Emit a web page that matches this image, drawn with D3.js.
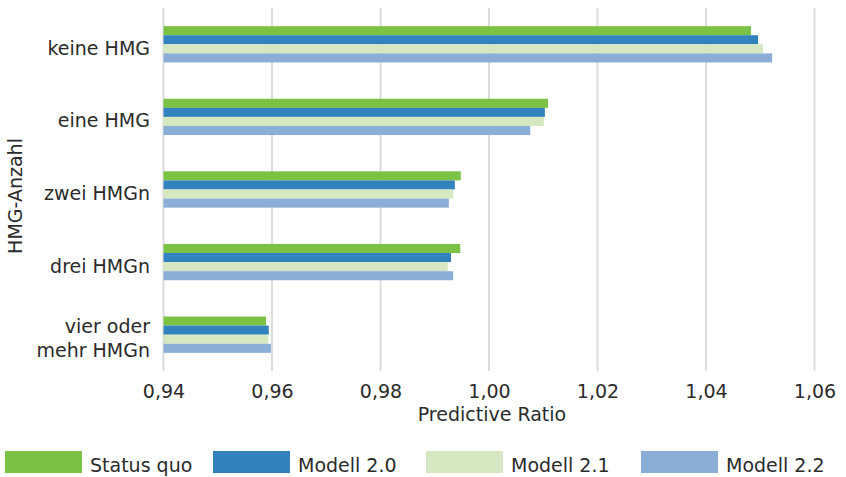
<!DOCTYPE html>
<html>
<head>
<meta charset="utf-8">
<script src="https://cdn.jsdelivr.net/npm/d3@7"></script>
<style>
  html, body { margin: 0; padding: 0; background: #fff; }
  svg { display: block; }
  text { font-family: "DejaVu Sans", sans-serif; fill: #2b2b2b; }
</style>
</head>
<body>
<svg id="chart" width="846" height="477"></svg>
<script>
// Categories (number of HMG groups) and series
const categories = ["keine HMG", "eine HMG", "zwei HMGn", "drei HMGn", "vier oder mehr HMGn"];
const categoryLines = [["keine HMG"], ["eine HMG"], ["zwei HMGn"], ["drei HMGn"], ["vier oder", "mehr HMGn"]];
const seriesNames = ["Status quo", "Modell 2.0", "Modell 2.1", "Modell 2.2"];

// Predictive ratio per series, in category order
const statusQuo = [1.0483, 1.0109, 0.9948, 0.9947, 0.9589];
const modell20  = [1.0496, 1.0103, 0.9937, 0.9930, 0.9594];
const modell21  = [1.0505, 1.0101, 0.9934, 0.9924, 0.9593];
const modell22  = [1.0522, 1.0076, 0.9926, 0.9934, 0.9598];
const seriesValues = [statusQuo, modell20, modell21, modell22];

const xTicks = [0.94, 0.96, 0.98, 1.00, 1.02, 1.04, 1.06];
const xDomain = [0.94, 1.06];
const colors = ["#7bc143", "#3182bd", "#d5e8c1", "#8aaed6"];

const svg = d3.select("#chart");
const margin = { left: 163.5, right: 31.5, top: 8, bottom: 106 };
const W = 846, H = 477;
const plotW = W - margin.left - margin.right;
const plotH = H - margin.top - margin.bottom;

const x = d3.scaleLinear().domain(xDomain).range([margin.left, margin.left + plotW]);
const y = d3.scaleBand().domain(categories)
  .range([margin.top, margin.top + plotH])
  .paddingInner(0.5).paddingOuter(0.25);
const ySub = d3.scaleBand().domain(seriesNames).range([0, y.bandwidth()]);

// Vertical grid lines
svg.append("g").selectAll("line")
  .data(xTicks)
  .join("line")
  .attr("x1", d => x(d)).attr("x2", d => x(d))
  .attr("y1", margin.top).attr("y2", margin.top + plotH)
  .attr("stroke", "#dcdcdc").attr("stroke-width", 2);

// Bars
const groups = svg.append("g").selectAll("g")
  .data(categories)
  .join("g")
  .attr("transform", d => `translate(0,${y(d)})`);

groups.selectAll("rect")
  .data((c, i) => seriesNames.map((s, k) => ({ s, k, v: seriesValues[k][i] })))
  .join("rect")
  .attr("x", x(xDomain[0]))
  .attr("y", d => ySub(d.s))
  .attr("width", d => x(d.v) - x(xDomain[0]))
  .attr("height", ySub.bandwidth())
  .attr("fill", d => colors[d.k]);

// X axis tick labels
const xAxis = d3.axisBottom(x).tickValues(xTicks)
  .tickFormat(d => d3.format(".2f")(d).replace(".", ","))
  .tickSize(0).tickPadding(0);
const gx = svg.append("g").attr("transform", `translate(0,${margin.top + plotH})`).call(xAxis);
gx.select(".domain").remove();
gx.selectAll("text")
  .attr("y", 27).attr("dy", null)
  .style("font-size", "19px").style("font-family", "DejaVu Sans, sans-serif").attr("fill", "#2b2b2b");

// Category labels
const catG = svg.append("g");
categories.forEach((c, i) => {
  const lines = categoryLines[i];
  const cy = y(c) + y.bandwidth() / 2;
  const t = catG.append("text")
    .attr("x", 150)
    .attr("text-anchor", "end")
    .style("font-size", "19px");
  const lh = 24;
  const y0 = cy + 10.5 - (lines.length - 1) * lh / 2;
  lines.forEach((ln, j) => {
    t.append("tspan").attr("x", 150).attr("y", y0 + j * lh).text(ln);
  });
});

// Axis titles
svg.append("text")
  .attr("x", x(1.0) + 3).attr("y", 421)
  .attr("text-anchor", "middle")
  .style("font-size", "19px")
  .text("Predictive Ratio");

svg.append("text")
  .attr("transform", "translate(22,196) rotate(-90)")
  .attr("text-anchor", "middle")
  .style("font-size", "19px")
  .text("HMG-Anzahl");

// Legend
const legendX = [5, 213, 426, 641];
const legend = svg.append("g");
seriesNames.forEach((s, k) => {
  legend.append("rect")
    .attr("x", legendX[k]).attr("y", 451)
    .attr("width", 77).attr("height", 22)
    .attr("fill", colors[k]);
  legend.append("text")
    .attr("x", legendX[k] + 85).attr("y", 472)
    .style("font-size", "19px")
    .text(s);
});
</script>
</body>
</html>
